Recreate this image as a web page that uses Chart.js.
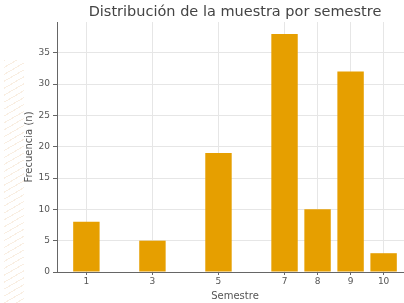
<!DOCTYPE html>
<html>
<head>
<meta charset="utf-8">
<script src="https://cdn.jsdelivr.net/npm/chart.js@4/dist/chart.umd.min.js"></script>
<style>
    html, body { margin: 0; padding: 0; background: #fff; overflow: hidden; }
    #wrap { position: relative; width: 404px; height: 303px; overflow: hidden; }
    #stripes {
        position: absolute; left: 4px; top: 60px; width: 20px; height: 243px;
        background: repeating-linear-gradient(150deg, rgba(235, 200, 160, 0.3) 0 1px, transparent 1px 6px);
    }
    canvas { position: absolute; left: 0; top: 0; }
</style>
</head>
<body>
<div id="wrap">
    <div id="stripes"></div>
    <canvas id="chart" width="413" height="303"></canvas>
</div>
<script>
const semestres = [1, 3, 5, 7, 8, 9, 10];
const frecuencias = [8, 5, 19, 38, 10, 32, 3];
const xTicks = [1, 3, 5, 7, 8, 9, 10];
const yTicks = [0, 5, 10, 15, 20, 25, 30, 35];

const titulo = "Distribución de la muestra por semestre";
const fontFamily = "'DejaVu Sans', sans-serif";

// titolo centrato sull'area del grafico
const titlePlugin = {
    id: "plotTitle",
    afterDraw(chart) {
        const { ctx, chartArea } = chart;
        ctx.save();
        ctx.font = "14.5px " + fontFamily;
        ctx.fillStyle = "#444";
        ctx.textAlign = "center";
        ctx.textBaseline = "middle";
        ctx.fillText(titulo, (chartArea.left + chartArea.right) / 2, 12);
        ctx.restore();
    }
};

new Chart(document.getElementById("chart"), {
    type: "bar",
    data: {
        datasets: [
            {
                data: semestres.map((s, i) => ({ x: s, y: frecuencias[i] })),
                backgroundColor: "#E69F00",
                borderWidth: 0,
                barPercentage: 0.8,
                categoryPercentage: 1
            }
        ]
    },
    options: {
        responsive: false,
        animation: false,
        layout: { padding: { top: 22, left: 0, right: 0, bottom: 0 } },
        plugins: { legend: { display: false }, tooltip: { enabled: false } },
        scales: {
            x: {
                type: "linear",
                offset: false,
                min: 0.11,
                max: 10.89,
                afterBuildTicks: scale => {
                    scale.ticks = xTicks.map(v => ({ value: v }));
                },
                afterFit: scale => { scale.height = 31; },
                grid: { offset: false, color: "#e6e6e6", tickColor: "#666", tickLength: 3, drawTicks: true },
                border: { color: "#666", width: 1 },
                ticks: { font: { family: fontFamily, size: 9 }, color: "#555", padding: 1, maxRotation: 0, autoSkip: false },
                title: { display: true, text: "Semestre", font: { family: fontFamily, size: 10 }, color: "#555", padding: { top: 2, bottom: 1 } }
            },
            y: {
                min: 0,
                max: 39.9,
                afterBuildTicks: scale => {
                    scale.ticks = yTicks.map(v => ({ value: v }));
                },
                afterFit: scale => { scale.width = 57; },
                grid: { color: "#e6e6e6", tickColor: "#666", tickLength: 4 },
                border: { color: "#666", width: 1 },
                ticks: { font: { family: fontFamily, size: 9 }, color: "#555", padding: 3 },
                title: { display: true, text: "Frecuencia (n)", font: { family: fontFamily, size: 10 }, color: "#555", padding: { top: 23, bottom: 0 } }
            }
        }
    },
    plugins: [titlePlugin]
});
</script>
</body>
</html>
